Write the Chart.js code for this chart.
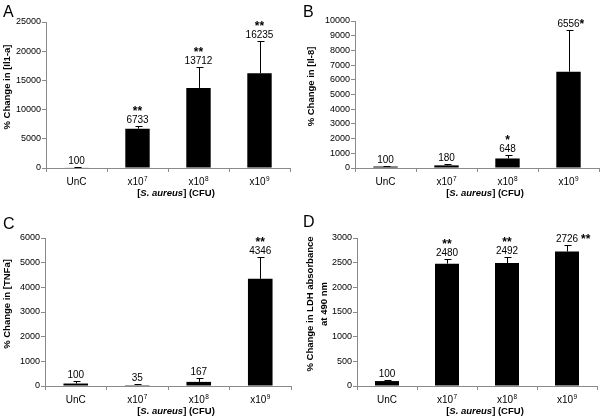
<!DOCTYPE html>
<html>
<head>
<meta charset="utf-8">
<script src="https://cdn.jsdelivr.net/npm/chart.js@4"></script>
<style>
body { margin: 0; background: #fff; }
#wrap { position: relative; width: 600px; height: 417px; }
canvas { position: absolute; }
</style>
</head>
<body>
<div id="wrap">
  <canvas id="panelA" width="300" height="208" style="left:0;top:0"></canvas>
  <canvas id="panelB" width="300" height="208" style="left:300px;top:0"></canvas>
  <canvas id="panelC" width="300" height="209" style="left:0;top:208px"></canvas>
  <canvas id="panelD" width="300" height="209" style="left:300px;top:208px"></canvas>
</div>
<script>
const categories = ['UnC', 'x10⁷', 'x10⁸', 'x10⁹'];

// Il1-a
const il1aValues = [100, 6733, 13712, 16235];
const il1aErrors = [80, 450, 3600, 5450];
const il1aStars = ['', '**', '**', '**'];

// Il-8
const il8Values = [100, 180, 648, 6556];
const il8Errors = [50, 60, 240, 2860];
const il8Stars = ['', '', '*', '*'];

// TNFa
const tnfValues = [100, 35, 167, 4346];
const tnfErrors = [120, 35, 140, 875];
const tnfStars = ['', '', '', '**'];

// LDH
const ldhValues = [100, 2480, 2492, 2726];
const ldhErrors = [30, 85, 125, 125];
const ldhStars = ['', '**', '**', '**'];

const FONT = '"Liberation Sans", Arial, sans-serif';
const AXIS = '#8a8a8a';
const SUP = '⁰¹²³⁴⁵⁶⁷⁸⁹';

const decorations = {
  id: 'decorations',
  afterDraw(chart) {
    const p = chart.options.plugins.decorations;
    const ctx = chart.ctx;
    const x = chart.scales.x;
    const y = chart.scales.y;
    const area = chart.chartArea;
    const meta = chart.getDatasetMeta(0);
    ctx.save();
    ctx.fillStyle = '#000';
    ctx.strokeStyle = '#000';
    ctx.lineWidth = 1;

    meta.data.forEach((bar, i) => {
      const v = p.values[i];
      const top = Math.round(y.getPixelForValue(v + p.errors[i])) + 0.5;
      const cx = Math.round(bar.x) + 0.5;
      ctx.beginPath();
      ctx.moveTo(cx, bar.y);
      ctx.lineTo(cx, top);
      ctx.moveTo(cx - 3, top);
      ctx.lineTo(cx + 4, top);
      ctx.stroke();

      const base = top - 4;
      ctx.font = '10px ' + FONT;
      ctx.textAlign = 'center';
      ctx.textBaseline = 'alphabetic';
      const label = String(v);
      ctx.fillText(label, bar.x, base);
      const s = p.stars[i];
      if (!s) return;
      if (i === p.starsBeside) {
        const w = ctx.measureText(label).width;
        ctx.font = 'bold 12px ' + FONT;
        ctx.textAlign = 'left';
        ctx.fillText(s, bar.x + w / 2 + p.starGap, base + 1);
      } else {
        ctx.font = 'bold 12px ' + FONT;
        ctx.fillText(s, bar.x, base - 8);
      }
    });

    // category labels with raised exponents
    ctx.textAlign = 'left';
    ctx.textBaseline = 'alphabetic';
    categories.forEach((c, i) => {
      let main = c, exp = '';
      while (main.length && SUP.includes(main[main.length - 1])) {
        exp = SUP.indexOf(main[main.length - 1]) + exp;
        main = main.slice(0, -1);
      }
      ctx.font = '10px ' + FONT;
      const w1 = ctx.measureText(main).width;
      ctx.font = '6.5px ' + FONT;
      const w2 = exp ? ctx.measureText(exp).width + 0.5 : 0;
      const left = x.getPixelForValue(i) - (w1 + w2) / 2;
      const by = area.bottom + 17;
      ctx.font = '10px ' + FONT;
      ctx.fillText(main, left, by);
      if (exp) {
        ctx.font = '6.5px ' + FONT;
        ctx.fillText(exp, left + w1 + 0.5, by - 4);
      }
    });

    // panel letter
    ctx.font = '16px ' + FONT;
    ctx.fillText(p.letter, 3, p.letterY);

    // y title
    ctx.font = 'bold 9.5px ' + FONT;
    ctx.textAlign = 'center';
    ctx.textBaseline = 'middle';
    const midY = (area.top + area.bottom) / 2 - 8;
    p.yTitle.forEach((t, k) => {
      ctx.save();
      ctx.translate(p.yTitleX[k], midY);
      ctx.rotate(-Math.PI / 2);
      ctx.fillText(t, 0, 0);
      ctx.restore();
    });

    // x title with italic species name
    const parts = [
      ['[', 'bold'],
      ['S. aureus', 'italic bold'],
      ['] (CFU)', 'bold']
    ];
    let total = 0;
    parts.forEach(pt => {
      ctx.font = pt[1] + ' 9.5px ' + FONT;
      total += ctx.measureText(pt[0]).width;
    });
    let tx = (area.left + area.right) / 2 + 8 - total / 2;
    const ty = area.bottom + 25;
    ctx.textAlign = 'left';
    parts.forEach(pt => {
      ctx.font = pt[1] + ' 9.5px ' + FONT;
      ctx.fillText(pt[0], tx, ty);
      tx += ctx.measureText(pt[0]).width;
    });
    ctx.restore();
  }
};

function makePanel(id, cfg) {
  const canvas = document.getElementById(id);
  const h = canvas.height, w = canvas.width;
  return new Chart(canvas, {
    type: 'bar',
    data: {
      labels: categories,
      datasets: [{
        data: cfg.values,
        backgroundColor: '#000',
        borderWidth: 0,
        barPercentage: 0.4,
        categoryPercentage: 1
      }]
    },
    options: {
      responsive: false,
      animation: false,
      devicePixelRatio: 1,
      layout: { padding: { top: cfg.area[1], right: w - cfg.area[2], left: 0, bottom: 0 } },
      plugins: {
        legend: { display: false },
        tooltip: { enabled: false },
        decorations: {
          values: cfg.values,
          errors: cfg.errors,
          stars: cfg.stars,
          starsBeside: cfg.starsBeside,
          starGap: cfg.starGap,
          letter: cfg.letter,
          letterY: cfg.letterY,
          yTitle: cfg.yTitle,
          yTitleX: cfg.yTitleX
        }
      },
      scales: {
        x: {
          afterFit(s) { s.height = h - cfg.area[3]; },
          border: { color: AXIS, width: 1 },
          grid: { drawOnChartArea: false, color: AXIS, tickLength: 4, offset: true },
          ticks: { display: false }
        },
        y: {
          min: 0,
          max: cfg.max,
          afterFit(s) { s.width = cfg.area[0]; },
          border: { color: AXIS, width: 1 },
          grid: { drawOnChartArea: false, color: AXIS, tickLength: 4 },
          ticks: {
            stepSize: cfg.step,
            color: '#000',
            font: { size: 9, family: FONT },
            padding: 1,
            callback: v => String(v)
          }
        }
      }
    },
    plugins: [decorations]
  });
}

makePanel('panelA', {
  values: il1aValues, errors: il1aErrors, stars: il1aStars, starsBeside: -1, starGap: 2,
  max: 25000, step: 5000, area: [46, 22, 290, 168],
  letter: 'A', letterY: 17, yTitle: ['% Change in [Il1-a]'], yTitleX: [7]
});

makePanel('panelB', {
  values: il8Values, errors: il8Errors, stars: il8Stars, starsBeside: 3, starGap: 0,
  max: 10000, step: 1000, area: [55, 21, 299, 168],
  letter: 'B', letterY: 17, yTitle: ['% Change in [Il-8]'], yTitleX: [11]
});

makePanel('panelC', {
  values: tnfValues, errors: tnfErrors, stars: tnfStars, starsBeside: -1, starGap: 2,
  max: 6000, step: 1000, area: [45, 30, 291, 178],
  letter: 'C', letterY: 21, yTitle: ['% Change in [TNFa]'], yTitleX: [7]
});

makePanel('panelD', {
  values: ldhValues, errors: ldhErrors, stars: ldhStars, starsBeside: 3, starGap: 3,
  max: 3000, step: 500, area: [57, 30, 297, 178],
  letter: 'D', letterY: 19, yTitle: ['% Change in LDH absorbance', 'at 490 nm'], yTitleX: [10, 24]
});
</script>
</body>
</html>
